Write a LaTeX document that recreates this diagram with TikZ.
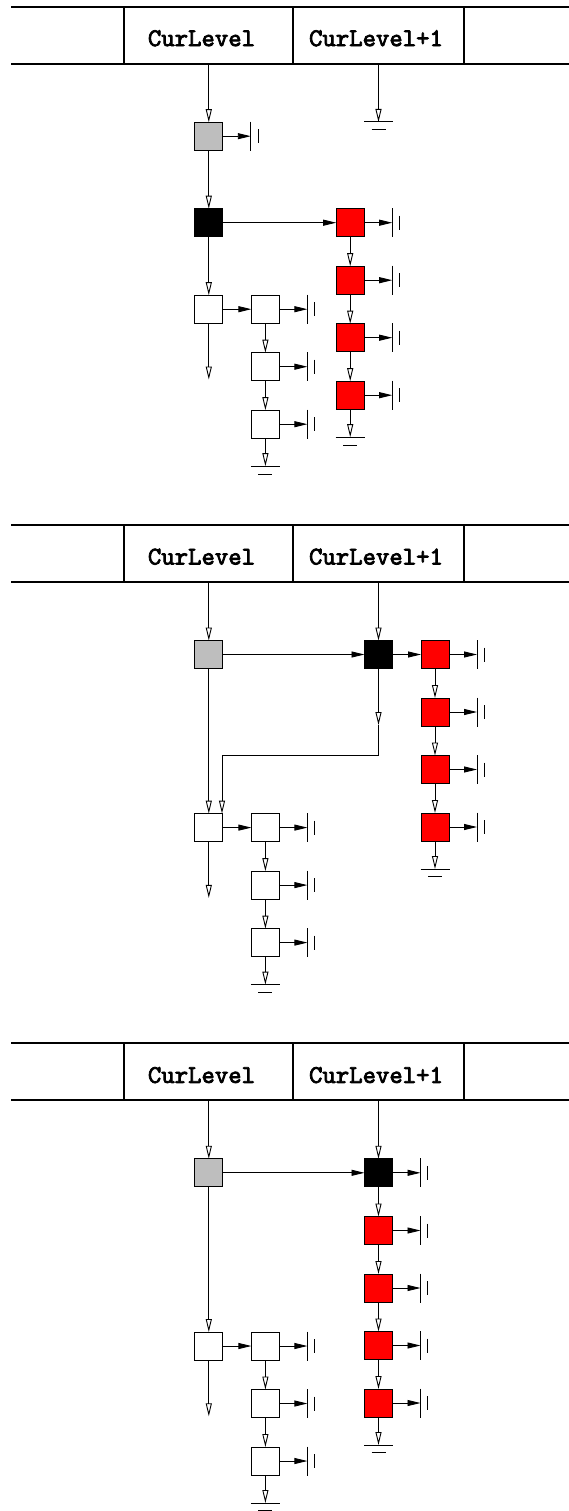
\documentclass[tikz,border=0pt]{standalone}
\usepackage{fontspec}
\newfontfamily\lblfont{lmmono10-regular}[Extension=.otf, FakeBold=3]
\usetikzlibrary{arrows.meta}
\definecolor{boxgray}{RGB}{190,190,190}
\tikzset{
  box/.style={draw=black, line width=1pt, minimum size=28pt, inner sep=0pt, outer sep=0pt},
  graybox/.style={box, fill=boxgray},
  blackbox/.style={box, fill=black},
  redbox/.style={box, fill=red},
  whitebox/.style={box, fill=white},
  oa/.style={line width=0.9pt, -{Triangle[open, length=13pt, width=6pt, line width=0.9pt]}},
  fa/.style={line width=0.9pt, -{Triangle[length=13pt, width=6pt]}},
  wire/.style={line width=0.9pt},
  bar/.style={line width=1pt},
  hdr/.style={line width=2pt},
  lbl/.style={font=\fontsize{25.5}{27}\selectfont\lblfont, inner sep=0pt}
}
\newcommand{\termin}[1]{%
  \draw[fa] (#1.east) -- ++(28,0) coordinate (#1-t);
  \draw[bar] ([yshift=14.5pt]#1-t) -- ([yshift=-14.5pt]#1-t);
  \draw[bar] ([shift={(7.3pt,7pt)}]#1-t) -- ([shift={(7.3pt,-7pt)}]#1-t);
}
\newcommand{\gnd}[3]{% start, length, name
  \draw[oa] (#1) -- ++(0,#2) coordinate (#3);
  \draw[bar] ([xshift=-14.5pt]#3) -- ([xshift=14.5pt]#3);
  \draw[bar] ([shift={(-7pt,-7.8pt)}]#3) -- ([shift={(7pt,-7.8pt)}]#3);
}
\newcommand{\header}[1]{%
  \draw[hdr] (11,6.6) -- (569,6.6);
  \draw[hdr] (11,63.6) -- (569,63.6);
  \draw[hdr] (124,6.6) -- (124,63.6);
  \draw[hdr] (293,6.6) -- (293,63.6);
  \draw[hdr] (464,6.6) -- (464,63.6);
  \node[lbl] (#1-cl) at (201.5,38.3) {CurLevel};
  \node[lbl] (#1-cl1) at (376,38.3) {CurLevel+1};
  \coordinate (#1-hA) at (208.8,63.6);
  \coordinate (#1-hD) at (378.5,63.6);
}
\newcommand{\whites}[1]{%
  \node[whitebox] (#1-w1) at (208.8,309.2) {};
  \node[whitebox] (#1-w2) at (265.4,309.2) {};
  \node[whitebox] (#1-w3) at (265.4,366.7) {};
  \node[whitebox] (#1-w4) at (265.4,424.2) {};
  \coordinate (#1-wend) at (208.8,379.5);
  \draw[fa] (#1-w1.east) -- (#1-w2.west);
  \draw[oa] (#1-w2.south) -- (#1-w3.north);
  \draw[oa] (#1-w3.south) -- (#1-w4.north);
  \draw[oa] (#1-w1.south) -- (#1-wend);
  \termin{#1-w2}\termin{#1-w3}\termin{#1-w4}
  \gnd{#1-w4.south}{28}{#1-wg}
}
\begin{document}
\begin{tikzpicture}[x=1pt, y=-1pt]
\useasboundingbox (0,0) rectangle (569,1511);
% ---------------- panel 1
\begin{scope}
  \header{p1}
  \node[graybox] (p1-g) at (208.8,136.2) {};
  \node[blackbox] (p1-k) at (208.8,222.7) {};
  \node[redbox] (p1-r1) at (350.2,222.7) {};
  \node[redbox] (p1-r2) at (350.2,280.2) {};
  \node[redbox] (p1-r3) at (350.2,337.7) {};
  \node[redbox] (p1-r4) at (350.2,395.2) {};
  \draw[oa] (p1-hA) -- (p1-g.north);
  \draw[oa] (p1-g.south) -- (p1-k.north);
  \draw[fa] (p1-k.east) -- (p1-r1.west);
  \draw[oa] (p1-r1.south) -- (p1-r2.north);
  \draw[oa] (p1-r2.south) -- (p1-r3.north);
  \draw[oa] (p1-r3.south) -- (p1-r4.north);
  \termin{p1-g}
  \termin{p1-r1}\termin{p1-r2}\termin{p1-r3}\termin{p1-r4}
  \gnd{p1-r4.south}{28}{p1-rg}
  \gnd{p1-hD}{58.4}{p1-hg}
  \whites{p1}
  \draw[oa] (p1-k.south) -- (p1-w1.north);
\end{scope}
% ---------------- panel 2
\begin{scope}[shift={(0,518.4)}]
  \header{p2}
  \node[graybox] (p2-g) at (208.8,136.1) {};
  \node[blackbox] (p2-k) at (378.5,136.1) {};
  \node[redbox] (p2-r1) at (435,136.1) {};
  \node[redbox] (p2-r2) at (435,193.6) {};
  \node[redbox] (p2-r3) at (435,251.1) {};
  \node[redbox] (p2-r4) at (435,308.6) {};
  \draw[oa] (p2-hA) -- (p2-g.north);
  \draw[oa] (p2-hD) -- (p2-k.north);
  \draw[fa] (p2-g.east) -- (p2-k.west);
  \draw[fa] (p2-k.east) -- (p2-r1.west);
  \draw[oa] (p2-r1.south) -- (p2-r2.north);
  \draw[oa] (p2-r2.south) -- (p2-r3.north);
  \draw[oa] (p2-r3.south) -- (p2-r4.north);
  \termin{p2-r1}\termin{p2-r2}\termin{p2-r3}\termin{p2-r4}
  \gnd{p2-r4.south}{28}{p2-rg}
  \whites{p2}
  \coordinate (p2-mid) at (378.5,206.6);
  \coordinate (p2-bend) at (378.5,236.6);
  \draw[oa] (p2-k.south) -- (p2-mid);
  \draw[oa] (p2-mid) -- (p2-bend) -| ([xshift=-0.8pt]p2-w1.north east);
  \draw[oa] (p2-g.south) -- (p2-w1.north);
\end{scope}
% ---------------- panel 3
\begin{scope}[shift={(0,1036.8)}]
  \header{p3}
  \node[graybox] (p3-g) at (208.8,136.0) {};
  \node[blackbox] (p3-k) at (378.5,136.0) {};
  \node[redbox] (p3-r1) at (378.5,193.7) {};
  \node[redbox] (p3-r2) at (378.5,251.2) {};
  \node[redbox] (p3-r3) at (378.5,308.7) {};
  \node[redbox] (p3-r4) at (378.5,366.2) {};
  \draw[oa] (p3-hA) -- (p3-g.north);
  \draw[oa] (p3-hD) -- (p3-k.north);
  \draw[fa] (p3-g.east) -- (p3-k.west);
  \draw[oa] (p3-k.south) -- (p3-r1.north);
  \draw[oa] (p3-r1.south) -- (p3-r2.north);
  \draw[oa] (p3-r2.south) -- (p3-r3.north);
  \draw[oa] (p3-r3.south) -- (p3-r4.north);
  \termin{p3-k}
  \termin{p3-r1}\termin{p3-r2}\termin{p3-r3}\termin{p3-r4}
  \gnd{p3-r4.south}{28}{p3-rg}
  \whites{p3}
  \draw[oa] (p3-g.south) -- (p3-w1.north);
\end{scope}
\end{tikzpicture}
\end{document}
